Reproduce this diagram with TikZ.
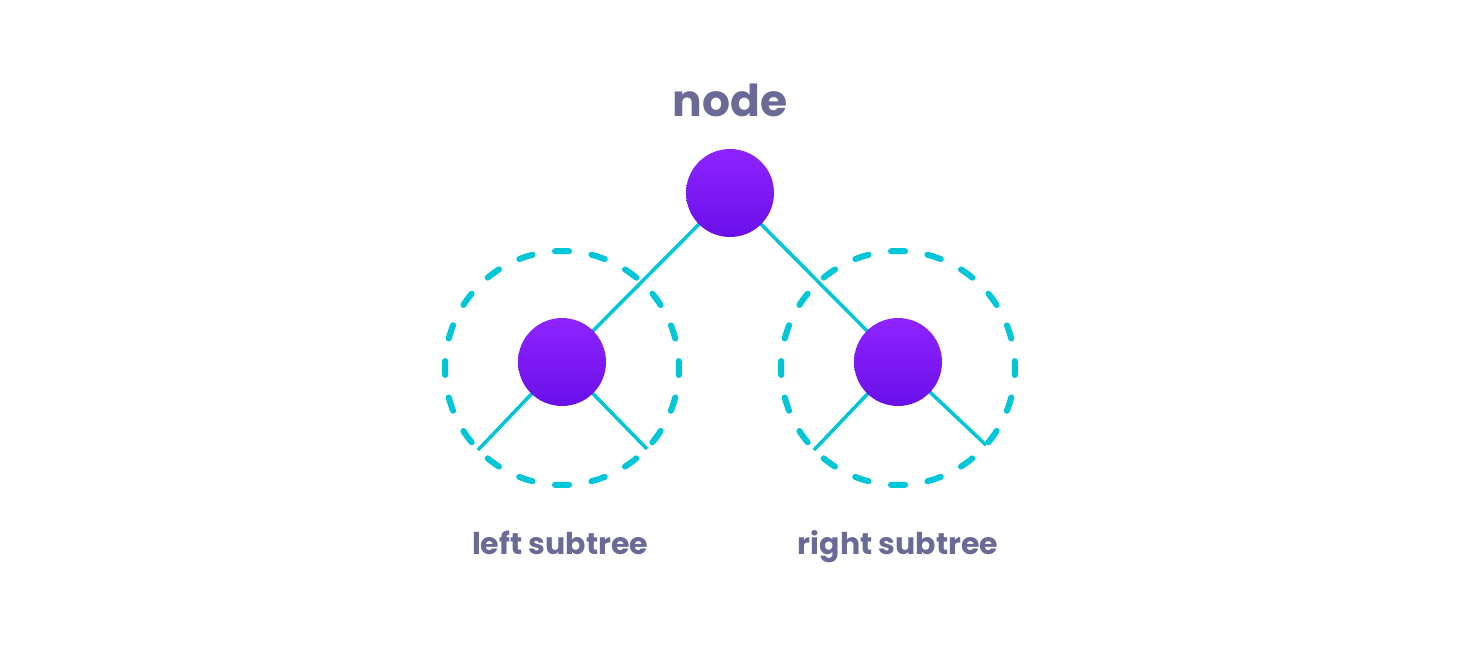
\documentclass[tikz,border=0pt]{standalone}
\usepackage{fontspec}
\setmainfont{Poppins}
\definecolor{edgecol}{HTML}{00C6D8}
\definecolor{topcol}{HTML}{8E24FF}
\definecolor{botcol}{HTML}{6A0FE8}
\definecolor{txtcol}{HTML}{6B6A96}
\tikzset{
  treenode/.style={circle, minimum size=88pt, inner sep=0pt, top color=topcol, bottom color=botcol, draw=none},
  edge/.style={draw=edgecol, line width=3.5pt},
  subtreering/.style={draw=edgecol, line width=6pt, line cap=round, dash pattern=on 14pt off 22.76pt, dash phase=7pt},
  lab/.style={text=txtcol, font=\bfseries\fontsize{30}{34}\selectfont, inner sep=0pt, anchor=base},
  title/.style={text=txtcol, font=\bfseries\fontsize{44}{50}\selectfont, inner sep=0pt, anchor=base}
}
\begin{document}
\begin{tikzpicture}[x=1pt,y=-1pt]
\useasboundingbox[fill=white] (0,0) rectangle (1460,646);
\coordinate (lsubc) at (562,368);
\coordinate (rsubc) at (898,368);
\coordinate (lla) at (478,450);
\coordinate (llb) at (647,449);
\coordinate (rla) at (814,450);
\coordinate (rlb) at (986,445);
\coordinate (rootc) at (730,193);
\coordinate (lcc) at (562,362);
\coordinate (rcc) at (898,362);
% edges
\draw[edge] (rootc) -- (lcc);
\draw[edge] (rootc) -- (rcc);
\draw[edge] (lcc) -- (lla);
\draw[edge] (lcc) -- (llb);
\draw[edge] (rcc) -- (rla);
\draw[edge] (rcc) -- (rlb);
% subtree rings
\draw[subtreering] (lsubc) circle[radius=117];
\draw[subtreering] (rsubc) circle[radius=117];
% nodes
\node[treenode] (root) at (rootc) {};
\node[treenode] (lc) at (lcc) {};
\node[treenode] (rc) at (rcc) {};
% labels
\node[title] (t) at (730,116) {node};
\node[lab] (ll) at (560,554) {left subtree};
\node[lab] (rl) at (898,554) {right subtree};
\end{tikzpicture}
\end{document}
